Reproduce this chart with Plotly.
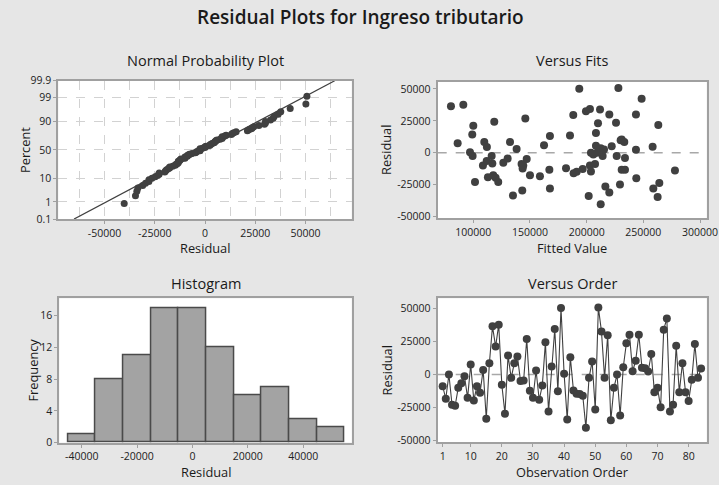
import numpy as np
import plotly.graph_objects as go
from statistics import NormalDist

# ---------------- data ----------------
observation = list(range(1, 85))
residuals = [
    -8800, -18300, 0, -22800, -23600, -10000, -6500, -1300, -17600, 7500,
    -19600, -8800, -13800, 3500, -33400, 8500, 36400, 21100, 37700, -7800,
    -29600, 14300, -2500, 8500, 13600, -4800, -4500, 26800, -12300, -17600,
    3000, -19100, -8300, 24300, -27900, 6000, 34400, -12600, 50200, 500,
    -33900, 13100, -12000, -14600, -14800, -16100, -40200, -2500, 9800, -26400,
    50700, 32600, -2500, 29600, -34600, -10000, 0, -31000, 5500, 23600,
    30100, 2500, 10500, 30100, 5200, 4800, 2300, 15500, -13300, -10000,
    -24800, 33900, 42400, -27900, -22800, 21800, -13300, 8500, -13300, -20000,
    -4000, 23100, -2500, 4500,
]
fitted = [
    142600, 158800, 203800, 101500, 264100, 108500, 111800, 205900, 117600, 86200,
    119700, 207400, 277900, 212400, 135000, 109700, 80300, 100000, 91200, 126500,
    143200, 99100, 99400, 132400, 185300, 147100, 130300, 145900, 143500, 150000,
    138200, 112900, 116800, 118500, 258800, 162400, 202900, 196500, 193500, 97100,
    201800, 167600, 181800, 203800, 191200, 188500, 212400, 214100, 230000, 216500,
    228000, 199400, 116200, 188200, 262600, 202900, 209100, 220000, 208200, 225900,
    220000, 215300, 230900, 243500, 222100, 258200, 243500, 208200, 230900, 144100,
    229400, 211800, 248500, 167600, 122000, 263200, 233800, 233200, 167100, 243800,
    233800, 210000, 226500, 112000,
]

prob_ticks = [0.1, 1, 10, 50, 90, 99, 99.9]
prob_tick_labels = ["0.1", "1", "10", "50", "90", "99", "99.9"]
npp_x_ticks = [-50000, -25000, 0, 25000, 50000]
npp_x_labels = ["-50000", "-25000", "0", "25000", "50000"]
fits_x_ticks = [100000, 150000, 200000, 250000, 300000]
fits_x_labels = ["100000", "150000", "200000", "250000", "300000"]
resid_y_ticks = [-50000, -25000, 0, 25000, 50000]
resid_y_labels = ["-50000", "-25000", "0", "25000", "50000"]
hist_x_ticks = [-40000, -20000, 0, 20000, 40000]
hist_x_labels = ["-40000", "-20000", "0", "20000", "40000"]
hist_y_ticks = [0, 4, 8, 12, 16]
order_x_ticks = [1, 10, 20, 30, 40, 50, 60, 70, 80]
hist_bin_start, hist_bin_end, hist_bin_size = -45000, 55000, 10000

# ---------------- derived ----------------
nd = NormalDist()
r = np.array(residuals, dtype=float)
n = len(r)
r_sorted = np.sort(r)
p = (np.arange(1, n + 1) - 0.3) / (n + 0.4)
z = np.array([nd.inv_cdf(v) for v in p])
mu, sd = r.mean(), r.std(ddof=1)
z_lo, z_hi = nd.inv_cdf(0.001), nd.inv_cdf(0.999)
line_z = [z_lo, z_hi]
line_x = [mu + sd * z_lo, mu + sd * z_hi]
prob_z = [nd.inv_cdf(v / 100) for v in prob_ticks]

W, H = 719, 485
DARK = "#404040"
BOX = "#a0a0a0"
GRID = "#d2d2d2"
FONT = "Open Sans"

def dom_x(a, b):
    return [a / W, b / W]

def dom_y(top, bottom):
    return [1 - bottom / H, 1 - top / H]

fig = go.Figure()

# Normal probability plot
fig.add_trace(go.Scatter(x=line_x, y=line_z, mode="lines",
                         line=dict(color=DARK, width=1.3), xaxis="x", yaxis="y",
                         hoverinfo="skip"))
fig.add_trace(go.Scatter(x=r_sorted, y=z, mode="markers",
                         marker=dict(color=DARK, size=7), xaxis="x", yaxis="y"))

# Versus fits
fig.add_trace(go.Scatter(x=fitted, y=residuals, mode="markers",
                         marker=dict(color=DARK, size=8), xaxis="x2", yaxis="y2"))

# Histogram
fig.add_trace(go.Histogram(x=residuals,
                           xbins=dict(start=hist_bin_start, end=hist_bin_end, size=hist_bin_size),
                           marker=dict(color="#a3a3a3", line=dict(color="#4a4a4a", width=1.5)),
                           xaxis="x3", yaxis="y3"))

# Versus order
fig.add_trace(go.Scatter(x=observation, y=residuals, mode="lines+markers",
                         line=dict(color=DARK, width=1.1),
                         marker=dict(color=DARK, size=8), xaxis="x4", yaxis="y4"))

axis_common = dict(showline=True, mirror=True, linecolor=BOX, linewidth=2,
                   ticks="outside", ticklen=3, tickcolor=BOX, tickwidth=1,
                   tickfont=dict(family=FONT, size=10.5, color="#222222"),
                   zeroline=False, showgrid=False, tickmode="array",
                   automargin=False)

fig.update_layout(
    template="none",
    width=W, height=H,
    margin=dict(l=0, r=0, t=0, b=0, pad=0),
    paper_bgcolor="#e6e6e6", plot_bgcolor="white",
    showlegend=False, bargap=0,
    font=dict(family=FONT, color="#222222"),
    xaxis=dict(axis_common, domain=dom_x(58.3, 351.7), anchor="y",
               range=[-73000, 73000], tickvals=npp_x_ticks, ticktext=npp_x_labels,
               showgrid=True, gridcolor=GRID, griddash="dash", gridwidth=1,
               minor=dict(tickvals=list(np.arange(-62500, 62501, 12500)),
                          showgrid=True, gridcolor=GRID, griddash="dash", ticks="")),
    yaxis=dict(axis_common, domain=dom_y(80.7, 219), anchor="x",
               range=[z_lo, z_hi], tickvals=prob_z, ticktext=prob_tick_labels,
               showgrid=True, gridcolor=GRID, griddash="dash", gridwidth=1),
    xaxis2=dict(axis_common, domain=dom_x(437.7, 706.7), anchor="y2",
                range=[68600, 305900], tickvals=fits_x_ticks, ticktext=fits_x_labels),
    yaxis2=dict(axis_common, domain=dom_y(81.7, 218.3), anchor="x2",
                range=[-51300, 55700], tickvals=resid_y_ticks, ticktext=resid_y_labels),
    xaxis3=dict(axis_common, domain=dom_x(59.3, 351.7), anchor="y3",
                range=[-48100, 57500], tickvals=hist_x_ticks, ticktext=hist_x_labels),
    yaxis3=dict(axis_common, domain=dom_y(298.3, 442.7), anchor="x3",
                range=[0, 18.2], tickvals=hist_y_ticks),
    xaxis4=dict(axis_common, domain=dom_x(437.7, 706.7), anchor="y4",
                range=[-0.6, 85.8], tickvals=order_x_ticks),
    yaxis4=dict(axis_common, domain=dom_y(298.3, 442.3), anchor="x4",
                range=[-51200, 57600], tickvals=resid_y_ticks, ticktext=resid_y_labels),
)

# zero reference lines
for xr, yr in (("x2", "y2"), ("x4", "y4")):
    fig.add_shape(type="line", xref=f"{xr} domain", yref=yr, x0=0, x1=1, y0=0, y1=0,
                  line=dict(color="#a8a8a8", width=1.5, dash="dash"), layer="below")

def ann(text, x, y, size, angle=0, weight="normal"):
    fig.add_annotation(text=text, x=x / W, y=1 - y / H, xref="paper", yref="paper",
                       showarrow=False, textangle=angle, xanchor="center", yanchor="middle",
                       font=dict(family=FONT, size=size, color="#1a1a1a", weight=weight))

ann("Residual Plots for Ingreso tributario", 360, 17, 19, weight=600)
ann("Normal Probability Plot", 205, 60, 14.5)
ann("Versus Fits", 572, 60, 14.5)
ann("Histogram", 205.5, 283, 14.5)
ann("Versus Order", 572, 283, 14.5)
ann("Residual", 205, 248, 12.8)
ann("Fitted Value", 572, 248, 12.8)
ann("Residual", 205.5, 472, 12.8)
ann("Observation Order", 572, 472, 12.8)
ann("Percent", 25, 150, 12.8, angle=-90)
ann("Residual", 386, 150, 12.8, angle=-90)
ann("Frequency", 32, 370.5, 12.8, angle=-90)
ann("Residual", 386, 370.5, 12.8, angle=-90)

fig.write_html("out.html", config={"displayModeBar": False},
               post_script="document.body.style.margin='0';document.body.style.overflow='hidden';")
